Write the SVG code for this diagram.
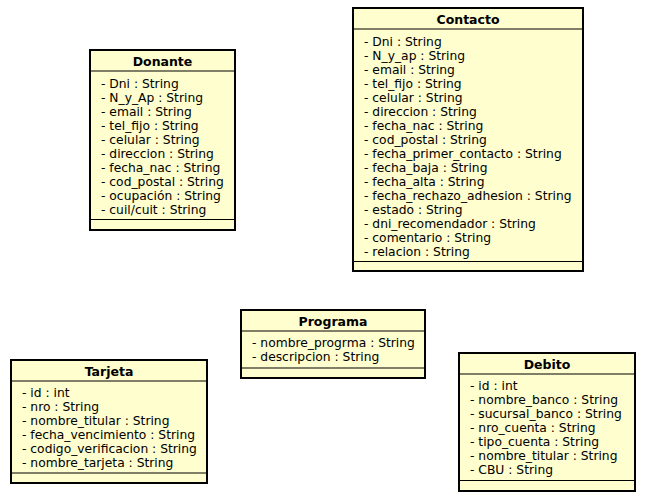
<svg xmlns="http://www.w3.org/2000/svg" width="658" height="496" viewBox="0 0 658 496">
<style>
.box{fill:#FEFECE;stroke:#000;stroke-width:2}
.sep{stroke:#000;stroke-width:1.2}
.title{font-family:"DejaVu Sans",sans-serif;font-size:12.5px;font-weight:bold;fill:#000;text-anchor:middle}
.attr{font-family:"DejaVu Sans",sans-serif;font-size:12.3px;fill:#000}
</style>
<rect width="658" height="496" fill="#fff"/>
<g id="connectors"/>
<g id="Donante">
<rect class="box" x="90" y="50" width="145" height="180"/>
<line class="sep" x1="90" y1="71" x2="235" y2="71"/>
<line class="sep" x1="90" y1="219.5" x2="235" y2="219.5"/>
<text class="title" x="162.5" y="66">Donante</text>
<text class="attr" x="101" y="88">- Dni : String</text>
<text class="attr" x="101" y="102">- N_y_Ap : String</text>
<text class="attr" x="101" y="116">- email : String</text>
<text class="attr" x="101" y="130">- tel_fijo : String</text>
<text class="attr" x="101" y="144">- celular : String</text>
<text class="attr" x="101" y="158">- direccion : String</text>
<text class="attr" x="101" y="172">- fecha_nac : String</text>
<text class="attr" x="101" y="186">- cod_postal : String</text>
<text class="attr" x="101" y="200">- ocupación : String</text>
<text class="attr" x="101" y="214">- cuil/cuit : String</text>
</g>
<g id="Contacto">
<rect class="box" x="353" y="8" width="230" height="263"/>
<line class="sep" x1="353" y1="29" x2="583" y2="29"/>
<line class="sep" x1="353" y1="261.5" x2="583" y2="261.5"/>
<text class="title" x="468" y="24">Contacto</text>
<text class="attr" x="364" y="46">- Dni : String</text>
<text class="attr" x="364" y="60">- N_y_ap : String</text>
<text class="attr" x="364" y="74">- email : String</text>
<text class="attr" x="364" y="88">- tel_fijo : String</text>
<text class="attr" x="364" y="102">- celular : String</text>
<text class="attr" x="364" y="116">- direccion : String</text>
<text class="attr" x="364" y="130">- fecha_nac : String</text>
<text class="attr" x="364" y="144">- cod_postal : String</text>
<text class="attr" x="364" y="158">- fecha_primer_contacto : String</text>
<text class="attr" x="364" y="172">- fecha_baja : String</text>
<text class="attr" x="364" y="186">- fecha_alta : String</text>
<text class="attr" x="364" y="200">- fecha_rechazo_adhesion : String</text>
<text class="attr" x="364" y="214">- estado : String</text>
<text class="attr" x="364" y="228">- dni_recomendador : String</text>
<text class="attr" x="364" y="242">- comentario : String</text>
<text class="attr" x="364" y="256">- relacion : String</text>
</g>
<g id="Programa">
<rect class="box" x="241" y="310" width="184" height="68"/>
<line class="sep" x1="241" y1="331" x2="425" y2="331"/>
<line class="sep" x1="241" y1="368" x2="425" y2="368"/>
<text class="title" x="333" y="326">Programa</text>
<text class="attr" x="252" y="347">- nombre_progrma : String</text>
<text class="attr" x="252" y="361">- descripcion : String</text>
</g>
<g id="Tarjeta">
<rect class="box" x="11" y="360" width="196" height="123"/>
<line class="sep" x1="11" y1="381" x2="207" y2="381"/>
<line class="sep" x1="11" y1="473" x2="207" y2="473"/>
<text class="title" x="109" y="376">Tarjeta</text>
<text class="attr" x="22" y="397">- id : int</text>
<text class="attr" x="22" y="411">- nro : String</text>
<text class="attr" x="22" y="425">- nombre_titular : String</text>
<text class="attr" x="22" y="439">- fecha_vencimiento : String</text>
<text class="attr" x="22" y="453">- codigo_verificacion : String</text>
<text class="attr" x="22" y="467">- nombre_tarjeta : String</text>
</g>
<g id="Debito">
<rect class="box" x="459" y="353" width="176" height="138"/>
<line class="sep" x1="459" y1="374" x2="635" y2="374"/>
<line class="sep" x1="459" y1="480.5" x2="635" y2="480.5"/>
<text class="title" x="547" y="369">Debito</text>
<text class="attr" x="470" y="390">- id : int</text>
<text class="attr" x="470" y="404">- nombre_banco : String</text>
<text class="attr" x="470" y="418">- sucursal_banco : String</text>
<text class="attr" x="470" y="432">- nro_cuenta : String</text>
<text class="attr" x="470" y="446">- tipo_cuenta : String</text>
<text class="attr" x="470" y="460">- nombre_titular : String</text>
<text class="attr" x="470" y="474">- CBU : String</text>
</g>
</svg>
